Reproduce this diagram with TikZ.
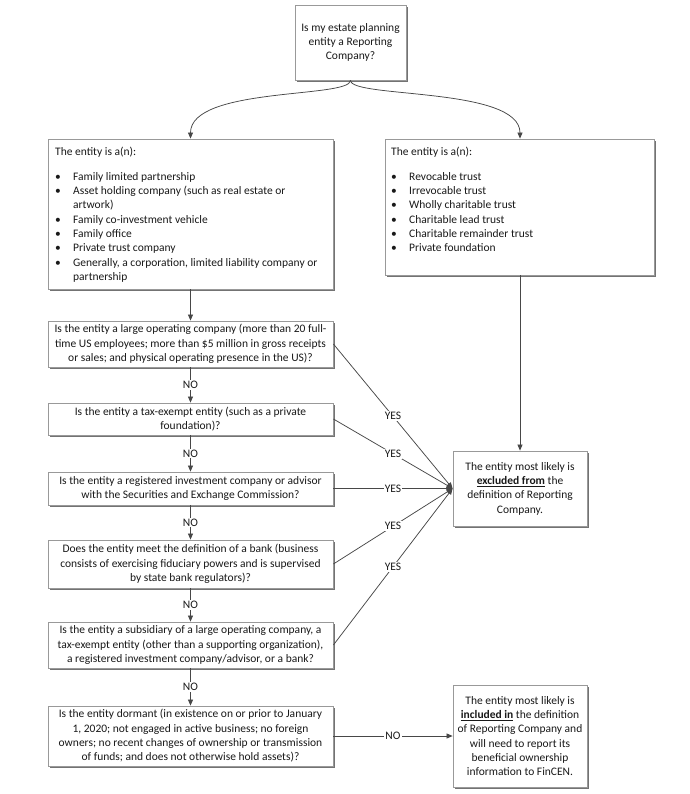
\documentclass[tikz,border=0pt]{standalone}
\usepackage{fontspec}
\setmainfont{Carlito}
\usetikzlibrary{arrows.meta,shadows}
\newcommand\fsz{\fontsize{11.5}{14.3}\selectfont}
\begin{document}
\begin{tikzpicture}[x=1pt,y=-1pt,
  box/.style={draw=black!40, line width=0.8pt, fill=white,
    drop shadow={shadow xshift=1.6pt, shadow yshift=-1.6pt, fill=black!55, opacity=1},
    align=center, inner sep=0pt, font=\fsz, text=black!90},
  listtxt/.style={inner sep=0pt, font=\fsz, text=black!90, anchor=north west},
  conn/.style={draw=black!72, line width=0.75pt, -{Triangle[length=6pt,width=5pt]}},
  lbl/.style={fill=white, inner sep=1pt, font=\fsz, text=black!90}
]
\useasboundingbox (0,0) rectangle (689,794);

\node[box, minimum width=111pt, minimum height=75pt] (top) at (350.5,42.5)
  {Is my estate planning\\entity a Reporting\\Company?};

\node[box, minimum width=285pt, minimum height=150pt] (lbox) at (190.5,214) {};
\node[listtxt] (ltxt) at (55,145) {%
\begin{tabular}{@{}p{18pt}@{}l@{}}
\multicolumn{2}{@{}l@{}}{The entity is a(n):}\\[10.8pt]
\textbullet & Family limited partnership\\
\textbullet & Asset holding company (such as real estate or\\
 & artwork)\\
\textbullet & Family co-investment vehicle\\
\textbullet & Family office\\
\textbullet & Private trust company\\
\textbullet & Generally, a corporation, limited liability company or\\
 & partnership
\end{tabular}};

\node[box, minimum width=269pt, minimum height=136pt] (rbox) at (520,207) {};
\node[listtxt] (rtxt) at (391,145) {%
\begin{tabular}{@{}p{18pt}@{}l@{}}
\multicolumn{2}{@{}l@{}}{The entity is a(n):}\\[10.8pt]
\textbullet & Revocable trust\\
\textbullet & Irrevocable trust\\
\textbullet & Wholly charitable trust\\
\textbullet & Charitable lead trust\\
\textbullet & Charitable remainder trust\\
\textbullet & Private foundation
\end{tabular}};

\node[box, minimum width=285pt, minimum height=46pt] (q1) at (190.5,344)
  {Is the entity a large operating company (more than 20 full-\\time US employees; more than \$5 million in gross receipts\\or sales; and physical operating presence in the US)?};
\node[box, minimum width=285pt, minimum height=32pt] (q2) at (190.5,419)
  {Is the entity a tax-exempt entity (such as a private\\foundation)?};
\node[box, minimum width=285pt, minimum height=33pt] (q3) at (190.5,488.5)
  {Is the entity a registered investment company or advisor\\with the Securities and Exchange Commission?};
\node[box, minimum width=285pt, minimum height=48pt] (q4) at (190.5,564)
  {Does the entity meet the definition of a bank (business\\consists of exercising fiduciary powers and is supervised\\by state bank regulators)?};
\node[box, minimum width=285pt, minimum height=46pt] (q5) at (190.5,645)
  {Is the entity a subsidiary of a large operating company, a\\tax-exempt entity (other than a supporting organization),\\a registered investment company/advisor, or a bank?};
\node[box, minimum width=285pt, minimum height=60pt] (q6) at (190.5,736)
  {Is the entity dormant (in existence on or prior to January\\1, 2020; not engaged in active business; no foreign\\owners; no recent changes of ownership or transmission\\of funds; and does not otherwise hold assets)?};

\node[box, minimum width=134pt, minimum height=75pt] (excl) at (520,488.5)
  {The entity most likely is\\\underline{\textbf{excluded from}} the\\definition of Reporting\\Company.};
\node[box, minimum width=134pt, minimum height=102pt] (incl) at (520,736)
  {The entity most likely is\\\underline{\textbf{included in}} the definition\\of Reporting Company and\\will need to report its\\beneficial ownership\\information to FinCEN.};

\draw[conn] (top.south) .. controls +(0,18) and +(0,-52) .. (lbox.north);
\draw[conn] (top.south) .. controls +(0,18) and +(0,-52) .. (rbox.north);
\draw[conn] (lbox.south) -- (q1.north);
\draw[conn] (rbox.south) -- (excl.north);

\draw[conn] (q1.south) -- node[lbl]{NO} (q2.north);
\draw[conn] (q2.south) -- node[lbl]{NO} (q3.north);
\draw[conn] (q3.south) -- node[lbl]{NO} (q4.north);
\draw[conn] (q4.south) -- node[lbl]{NO} (q5.north);
\draw[conn] (q5.south) -- node[lbl]{NO} (q6.north);

\draw[conn] (q1.east) -- node[lbl]{YES} (excl.west);
\draw[conn] (q2.east) -- node[lbl]{YES} (excl.west);
\draw[conn] (q3.east) -- node[lbl]{YES} (excl.west);
\draw[conn] (q4.east) -- node[lbl]{YES} (excl.west);
\draw[conn] (q5.east) -- node[lbl]{YES} (excl.west);

\draw[conn] (q6.east) -- node[lbl]{NO} (incl.west);
\end{tikzpicture}
\end{document}
